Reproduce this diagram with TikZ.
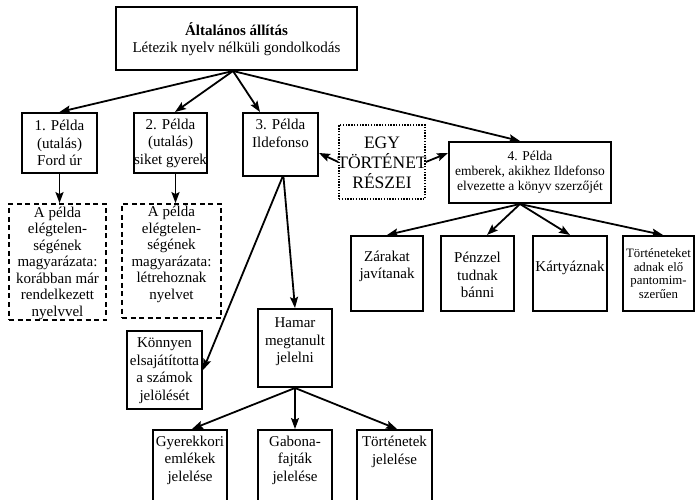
\documentclass[tikz,border=0pt]{standalone}
\usepackage{fontspec}
\setmainfont{Liberation Serif}
\usetikzlibrary{arrows.meta,calc}
\begin{document}
\begin{tikzpicture}[x=1pt,y=-1pt,
  box/.style={draw, line width=2pt, inner sep=0pt},
  dbox/.style={draw, line width=1.8pt, inner sep=0pt, dash pattern=on 5pt off 3.5pt},
  pbox/.style={draw, line width=1.5pt, inner sep=0pt, dash pattern=on 1.4pt off 1.4pt},
  txt/.style={align=center, inner sep=0pt, font=\fontsize{15}{17.5}\selectfont},
  dtxt/.style={align=center, inner sep=0pt, font=\fontsize{15}{16.5}\selectfont},
  stxt/.style={align=center, inner sep=0pt, font=\fontsize{13.5}{15}\selectfont},
  xtxt/.style={align=center, inner sep=0pt, font=\fontsize{12.8}{13.5}\selectfont},
  arr/.style={line width=1.8pt, -{Stealth[length=11pt,width=8pt,inset=2pt]}}
]
\useasboundingbox[fill=white] (0,0) rectangle (697,500);

% boxes
\node[box, minimum width=241pt, minimum height=63pt] (top) at (236.5,38.5) {};
\node[box, minimum width=75pt, minimum height=60pt] (b1) at (59.5,143) {};
\node[box, minimum width=73pt, minimum height=60pt] (b2) at (170.5,143) {};
\node[box, minimum width=75pt, minimum height=63pt] (b3) at (280.5,144.5) {};
\node[pbox, minimum width=86pt, minimum height=74pt] (egy) at (382,162) {};
\node[box, minimum width=162pt, minimum height=61pt] (b4) at (530,172.5) {};
\node[dbox, minimum width=97pt, minimum height=116pt] (d1) at (57.5,262) {};
\node[dbox, minimum width=99pt, minimum height=114pt] (d2) at (171.5,261) {};
\node[box, minimum width=75pt, minimum height=78pt] (kon) at (164.5,370) {};
\node[box, minimum width=74pt, minimum height=78pt] (ham) at (295,348) {};
\node[box, minimum width=74pt, minimum height=80pt] (gy) at (190,470) {};
\node[box, minimum width=74pt, minimum height=80pt] (gab) at (295,470) {};
\node[box, minimum width=75pt, minimum height=80pt] (tort) at (394.5,470) {};
\node[box, minimum width=72pt, minimum height=75pt] (zar) at (387,273.5) {};
\node[box, minimum width=73pt, minimum height=75pt] (pen) at (477.5,273.5) {};
\node[box, minimum width=74pt, minimum height=75pt] (kar) at (570,273.5) {};
\node[box, minimum width=71pt, minimum height=75pt] (tte) at (658.5,273.5) {};

% texts
\node[txt] (topt) at (236.5,39) {\textbf{Általános állítás}\\Létezik nyelv nélküli gondolkodás};
\node[txt] (b1t) at (59.5,143) {1. Példa\\(utalás)\\Ford úr};
\node[txt] (b2t) at (170.5,143) {2. Példa\\(utalás)\\siket gyerek};
\node[txt] (b3t) at (280.5,133.5) {3. Példa\\Ildefonso};
\node[align=center, inner sep=0pt, font=\fontsize{17.5}{20}\selectfont] (egyt) at (382,162.5) {EGY\\TÖRTÉNET\\RÉSZEI};
\node[stxt] (b4t) at (530,172.5) {4. Példa\\emberek, akikhez Ildefonso\\elvezette a könyv szerzőjét};
\node[dtxt] (d1t) at (57.5,263) {A példa\\elégtelen-\\ségének\\magyarázata:\\korábban már\\rendelkezett\\nyelvvel};
\node[dtxt] (d2t) at (171.5,254.5) {A példa\\elégtelen-\\ségének\\magyarázata:\\létrehoznak\\nyelvet};
\node[txt] (kont) at (164.5,370.5) {Könnyen\\elsajátította\\a számok\\jelölését};
\node[txt] (hamt) at (295,342) {Hamar\\megtanult\\jelelni};
\node[txt] (gyt) at (190,460) {Gyerekkori\\emlékek\\jelelése};
\node[txt] (gabt) at (295,460) {Gabona-\\fajták\\jelelése};
\node[txt] (tortt) at (394.5,452) {Történetek\\jelelése};
\node[txt] (zart) at (387,266.5) {Zárakat\\javítanak};
\node[txt] (pent) at (477.5,275) {Pénzzel\\tudnak\\bánni};
\node[txt] (kart) at (570,267.5) {Kártyáznak};
\node[xtxt] (ttet) at (658.5,273.5) {Történeteket\\adnak elő\\pantomim-\\szerűen};

% connectors
\draw[arr] ([xshift=-3.5pt]top.south) -- (b1.north);
\draw[arr] ([xshift=-3.5pt]top.south) -- ([xshift=4.5pt]b2.north);
\draw[arr] ([xshift=-3.5pt]top.south) -- ([xshift=-20.5pt]b3.north);
\draw[arr] ([xshift=-3.5pt]top.south) -- ([xshift=-10pt]b4.north);
\draw[arr] (b1.south) -- (b1.south |- d1.north);
\draw[arr] ([xshift=5pt]b2.south) -- ([xshift=5pt]b2.south |- d2.north);
\draw[arr] (egy.west) -- ([yshift=-8.5pt]b3.east);
\draw[arr] (egy.east) -- ([yshift=19.5pt]b4.west);
\draw[arr] ([xshift=2pt]b3.south) -- (kon.east);
\draw[arr] ([xshift=3pt]b3.south) -- (ham.north);
\draw[arr] (ham.south) -- ([xshift=2pt]gy.north);
\draw[arr] (ham.south) -- (gab.north);
\draw[arr] (ham.south) -- ([xshift=2.5pt]tort.north);
\draw[arr] ([xshift=-10pt]b4.south) -- (zar.north);
\draw[arr] ([xshift=-10pt]b4.south) -- ([xshift=9.5pt]pen.north);
\draw[arr] ([xshift=-10pt]b4.south) -- (kar.north);
\draw[arr] ([xshift=-10pt]b4.south) -- ([xshift=4.5pt]tte.north);
\end{tikzpicture}
\end{document}
